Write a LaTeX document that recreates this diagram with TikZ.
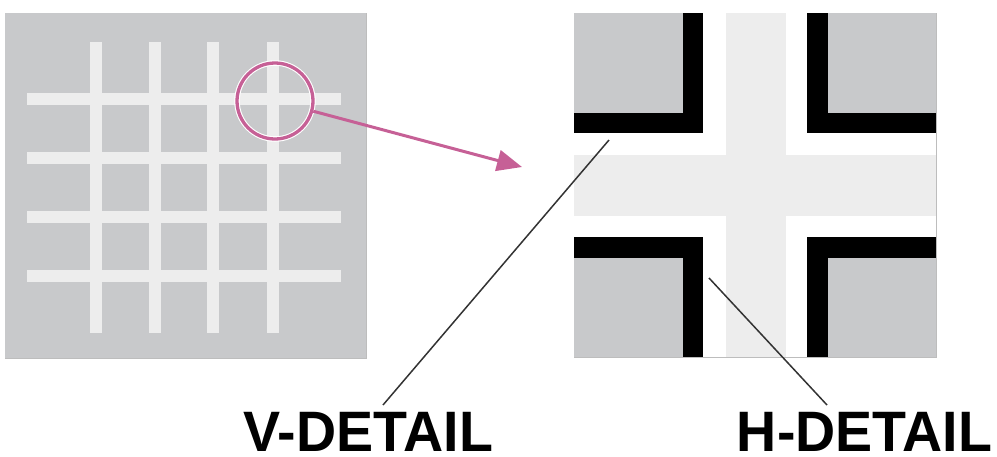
\documentclass[tikz,border=0pt]{standalone}
\usepackage{fontspec}
\setmainfont{Liberation Sans}
\newfontfamily\labelfont{Liberation Sans}[FakeStretch=0.975]
\usetikzlibrary{arrows.meta}
\definecolor{panelgray}{HTML}{C8C9CB}
\definecolor{barlight}{HTML}{EDEDED}
\definecolor{magpink}{HTML}{C66096}
\definecolor{leader}{HTML}{333333}
\definecolor{edgegray}{HTML}{BDBDBD}
\tikzset{
  panel/.style={fill=panelgray},
  bar/.style={fill=barlight},
  blackedge/.style={fill=black},
  leaderline/.style={draw=leader, line width=1.5pt},
  lbl/.style={font=\labelfont\bfseries\fontsize{57}{60}\selectfont, inner sep=0pt, anchor=base},
  magnifier/.style={circle, minimum size=76pt, inner sep=0pt},
}
\begin{document}
\begin{tikzpicture}[x=1pt,y=-1pt]
\useasboundingbox (0,0) rectangle (997,456);
% left panel
\fill[panel] (5,13) rectangle (366,358);
\draw[edgegray, line width=0.6pt] (5,358) -- (366,358) -- (366,13);
\foreach \x in {96,155,213,273} \fill[bar] (\x-6,42) rectangle (\x+6,333);
\foreach \y in {99,158,217,276} \fill[bar] (27,\y-6) rectangle (341,\y+6);
% magnifier and arrow
\node[magnifier, draw=white, line width=5.5pt] (magbg) at (275,101) {};
\node[magnifier, draw=magpink, line width=3.3pt] (mag) at (275,101) {};
\coordinate (tip) at (522,167);
\draw[magpink, line width=3pt, -{Triangle[length=25pt,width=21pt]}] (mag) -- (tip);
% right panel
\fill[white] (574,13) rectangle (936,357);
\fill[bar] (726,13) rectangle (786,357);
\fill[bar] (574,155) rectangle (936,216);
% top-left
\fill[panel] (574,13) rectangle (703,133);
\fill[blackedge] (683,13) rectangle (703,133);
\fill[blackedge] (574,113) rectangle (703,133);
% top-right
\fill[panel] (807,13) rectangle (936,133);
\fill[blackedge] (807,13) rectangle (828,133);
\fill[blackedge] (807,113) rectangle (936,133);
% bottom-left
\fill[panel] (574,237) rectangle (703,357);
\fill[blackedge] (574,237) rectangle (703,258);
\fill[blackedge] (683,237) rectangle (703,357);
% bottom-right
\fill[panel] (807,237) rectangle (936,357);
\fill[blackedge] (807,237) rectangle (936,258);
\fill[blackedge] (807,237) rectangle (828,357);
\draw[edgegray, line width=0.6pt] (574,357) -- (936,357) -- (936,13);
% labels and leader lines
\node[lbl] (vlabel) at (368.5,451) {V-DETAIL};
\node[lbl] (hlabel) at (864.5,451) {H-DETAIL};
\coordinate (vpoint) at (609,140);
\coordinate (hpoint) at (709,278);
\coordinate (vend) at (383,405);
\coordinate (hend) at (827,405);
\draw[leaderline] (vpoint) -- (vend);
\draw[leaderline] (hpoint) -- (hend);
\end{tikzpicture}
\end{document}
